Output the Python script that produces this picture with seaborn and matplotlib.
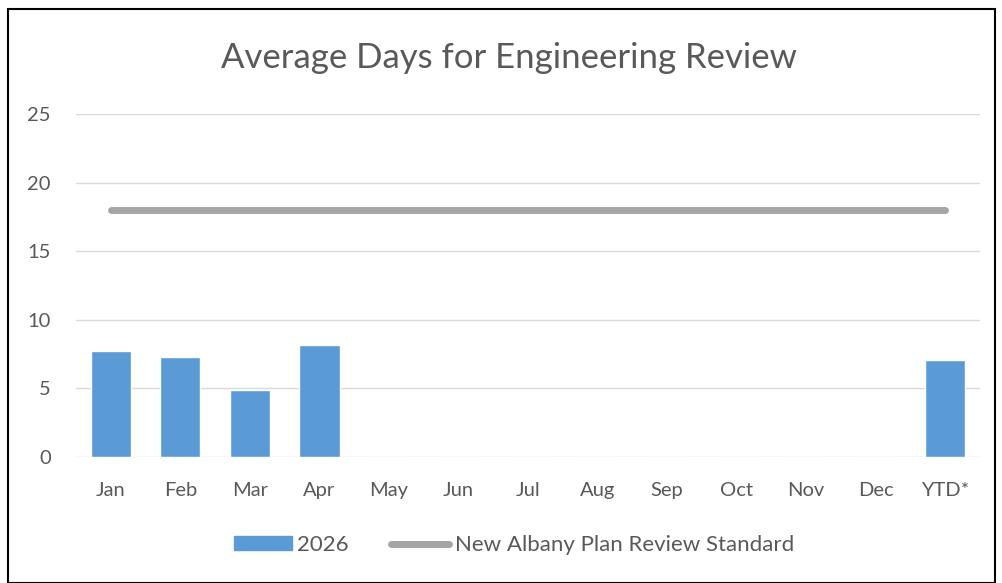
# Average days for engineering review — monthly bars vs the plan review standard

import matplotlib
matplotlib.use("Agg")
import matplotlib.pyplot as plt
import seaborn as sns
from matplotlib.patches import Rectangle, Patch
from matplotlib.lines import Line2D

months = ["Jan", "Feb", "Mar", "Apr", "May", "Jun", "Jul", "Aug", "Sep", "Oct", "Nov", "Dec", "YTD*"]
days_2026 = [7.7, 7.3, 4.9, 8.2, None, None, None, None, None, None, None, None, 7.1]
standard = [18] * 13

bar_color = "#5B9BD5"
line_color = "#A5A5A5"
text_color = "#595959"

sns.set_theme(style="white")
plt.rcParams["font.family"] = ["Lato", "DejaVu Sans"]

fig = plt.figure(figsize=(10.02, 5.83), dpi=100)
ax = fig.add_axes([0.0758, 0.216, 0.9022, 0.5885])

sns.barplot(x=months, y=[v if v is not None else 0 for v in days_2026], color=bar_color,
            width=0.58, saturation=1, ax=ax)
sns.pointplot(x=months, y=standard, color=line_color, markers="", linewidth=5, ax=ax)

ax.set_ylim(0, 25)
ax.set_xlim(-0.5, 12.5)
ax.set_yticks([0, 5, 10, 15, 20, 25])
ax.yaxis.grid(True, color="#D9D9D9", linewidth=1)
ax.set_axisbelow(True)
for side in ["top", "right", "left", "bottom"]:
    ax.spines[side].set_visible(False)
ax.tick_params(axis="both", length=0, labelsize=14.5, colors=text_color)
ax.tick_params(axis="y", pad=18)
ax.tick_params(axis="x", pad=18)
ax.set_xlabel("")
ax.set_ylabel("")

fig.text(0.508, 0.9, "Average Days for Engineering Review", ha="center", va="center",
         fontsize=25, color=text_color)

handles = [Patch(color=bar_color, label="2026"),
           Line2D([0], [0], color=line_color, linewidth=5, label="New Albany Plan Review Standard")]
fig.legend(handles=handles, loc="center", bbox_to_anchor=(0.513, 0.065), ncol=2, frameon=False,
           fontsize=16, labelcolor=text_color, handlelength=2.6, columnspacing=1.9,
           handletextpad=0.25, handleheight=0.6)

fig.patches.append(Rectangle((0.008, 0.0), 0.985, 0.985, transform=fig.transFigure,
                             fill=False, edgecolor="black", linewidth=1.5))

fig.savefig("out.png", dpi=100)
